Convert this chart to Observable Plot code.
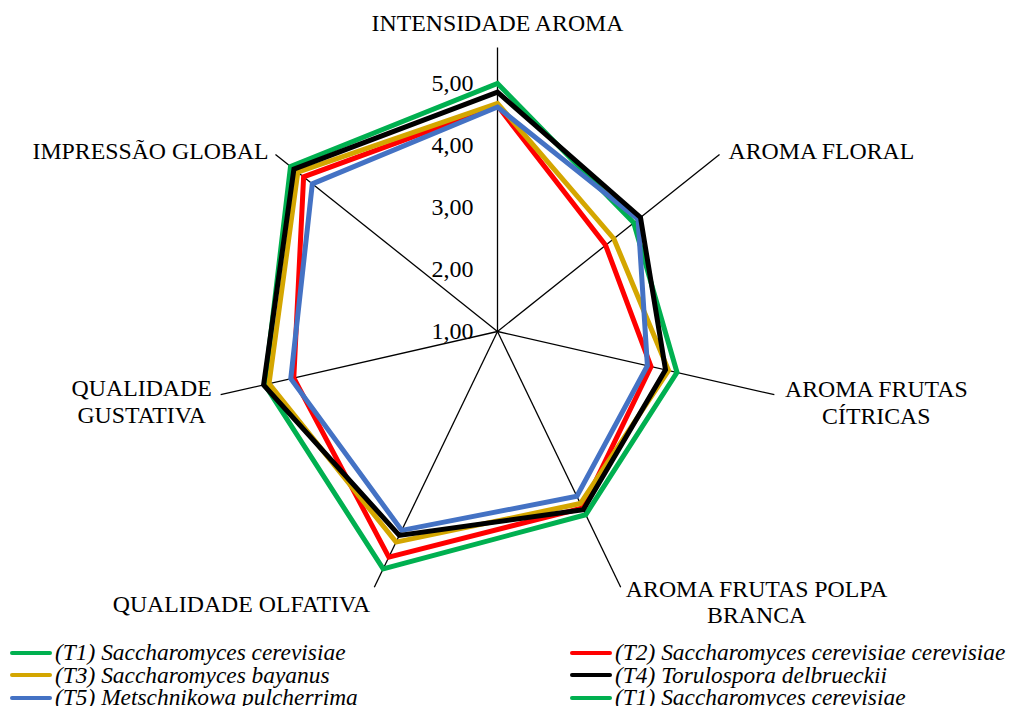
<!DOCTYPE html>
<html>
<head>
<meta charset="utf-8">
<script src="https://cdn.jsdelivr.net/npm/d3@7"></script>
<script src="https://cdn.jsdelivr.net/npm/@observablehq/plot@0.6"></script>
<style>
  html, body { margin: 0; padding: 0; background: #fff; overflow: hidden; }
  #chart svg { display: block; }
  #legend {
    display: grid;
    grid-template-columns: 560px 1fr;
    padding-left: 10px;
    padding-top: 5px;
    font-family: "Liberation Serif", "Times New Roman", serif;
    font-style: italic;
    font-size: 23.4px;
    line-height: 22.5px;
    color: #000;
    white-space: nowrap;
  }
  #legend .sw {
    display: inline-block;
    width: 42px;
    height: 4px;
    border-radius: 2px;
    vertical-align: middle;
    margin-right: 3px;
    position: relative;
    top: -2px;
  }
</style>
</head>
<body>
<div id="chart"></div>
<div id="legend"></div>
<script>
// ---- data ----
const axes = [
  "INTENSIDADE AROMA",
  "AROMA FLORAL",
  "AROMA FRUTAS\nCÍTRICAS",
  "AROMA FRUTAS POLPA\nBRANCA",
  "QUALIDADE OLFATIVA",
  "QUALIDADE\nGUSTATIVA",
  "IMPRESSÃO GLOBAL"
];
const seriesNames = [
  "(T1) Saccharomyces cerevisiae",
  "(T2) Saccharomyces cerevisiae cerevisiae",
  "(T3) Saccharomyces bayanus",
  "(T4) Torulospora delbrueckii",
  "(T5) Metschnikowa pulcherrima"
];
const legendNames = [
  "(T1) Saccharomyces cerevisiae",
  "(T2) Saccharomyces cerevisiae cerevisiae",
  "(T3) Saccharomyces bayanus",
  "(T4) Torulospora delbrueckii",
  "(T5) Metschnikowa pulcherrima",
  "(T1) Saccharomyces cerevisiae"
];
const seriesColors = ["#00B050", "#FF0000", "#D4A600", "#000000", "#4472C4"];
const legendColors = ["#00B050", "#FF0000", "#D4A600", "#000000", "#4472C4", "#00B050"];

const t1 = [5.00, 3.81, 3.97, 4.28, 5.25, 4.85, 5.27];
const t2 = [4.64, 3.23, 3.54, 4.16, 5.04, 4.37, 5.00];
const t3 = [4.68, 3.40, 3.83, 4.08, 4.77, 4.78, 5.12];
const t4 = [4.86, 3.95, 3.78, 4.19, 4.65, 4.87, 5.20];
const t5 = [4.62, 3.90, 3.48, 3.95, 4.56, 4.42, 4.82];
const seriesValues = [t1, t2, t3, t4, t5];

const tickValues = [1, 2, 3, 4, 5];
const tickLabels = ["1,00", "2,00", "3,00", "4,00", "5,00"];
const scaleMin = 1;
const scaleMax = 5.58;

// ---- layout ----
const W = 1009, H = 636, cx = 497, cy = 331, unit = 62;
const n = axes.length;
const ang = i => 2 * Math.PI * i / n;
const px = (i, v) => (v - scaleMin) * Math.sin(ang(i));
const py = (i, v) => (v - scaleMin) * Math.cos(ang(i));

const drawOrder = [0, 1, 2, 4, 3]; // T1, T2, T3, T5, T4
const pts = [];
for (const s of drawOrder) {
  seriesValues[s].forEach((v, i) => pts.push({series: seriesNames[s], x: px(i, v), y: py(i, v)}));
}
const axisEnds = axes.map((a, i) => ({name: a, x: px(i, scaleMax), y: py(i, scaleMax)}));

const labelLayout = [
  {anchor: "middle", dx: 0, dy: -25},
  {anchor: "start", dx: 9, dy: -4},
  {anchor: "middle", dx: 102, dy: 7},
  {anchor: "middle", dx: 136, dy: 14},
  {anchor: "end", dx: -4, dy: 16},
  {anchor: "middle", dx: -79, dy: 6},
  {anchor: "end", dx: -7, dy: -4}
];

const font = "Liberation Serif, Times New Roman, serif";

const chart = Plot.plot({
  width: W,
  height: H,
  margin: 0,
  x: {type: "linear", domain: [-cx / unit, (W - cx) / unit], range: [0, W], axis: null},
  y: {type: "linear", domain: [-(H - cy) / unit, cy / unit], range: [H, 0], axis: null},
  color: {domain: seriesNames, range: seriesColors},
  style: {fontFamily: font, fontSize: "23.8px", background: "#fff", color: "#000", overflow: "visible"},
  marks: [
    Plot.link(axisEnds, {x1: 0, y1: 0, x2: "x", y2: "y", stroke: "#000", strokeWidth: 1.3}),
    Plot.line(pts, {
      x: "x", y: "y", z: "series", stroke: "series",
      curve: "linear-closed", strokeWidth: 5, strokeLinejoin: "miter", strokeMiterlimit: 10
    }),
    Plot.text(tickValues, {
      x: 0, y: d => d - scaleMin, text: (d, i) => tickLabels[i],
      textAnchor: "end", dx: -24, fontSize: 24, fill: "#000"
    }),
    ...axisEnds.map((a, i) => Plot.text([a], {
      x: "x", y: "y", text: "name",
      textAnchor: labelLayout[i].anchor, dx: labelLayout[i].dx, dy: labelLayout[i].dy,
      lineHeight: 1.12, fontSize: 23.8, fill: "#000"
    }))
  ]
});
document.getElementById("chart").appendChild(chart);

const legend = document.getElementById("legend");
legendNames.forEach((name, i) => {
  const item = document.createElement("div");
  const sw = document.createElement("span");
  sw.className = "sw";
  sw.style.background = legendColors[i];
  item.appendChild(sw);
  item.appendChild(document.createTextNode(name));
  legend.appendChild(item);
});
</script>
</body>
</html>
